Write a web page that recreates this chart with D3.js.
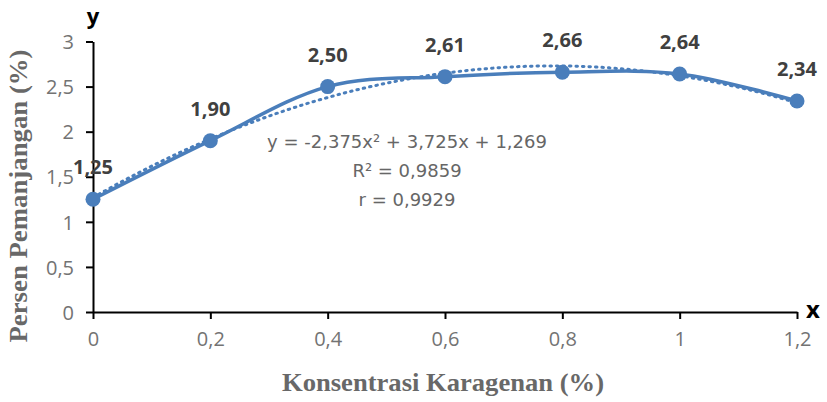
<!DOCTYPE html>
<html>
<head>
<meta charset="utf-8">
<script src="https://cdn.jsdelivr.net/npm/d3@7"></script>
<style>
  html, body { margin: 0; padding: 0; background: #fff; }
  svg { display: block; }
</style>
</head>
<body>
<svg id="chart" width="827" height="402"></svg>
<script>
// ---- data ----
const concentrations = [0, 0.2, 0.4, 0.6, 0.8, 1.0, 1.2];
const elongation = [1.25, 1.90, 2.50, 2.61, 2.66, 2.64, 2.34];
const xTicks = [0, 0.2, 0.4, 0.6, 0.8, 1.0, 1.2];
const yTicks = [0, 0.5, 1, 1.5, 2, 2.5, 3];
// polynomial trendline coefficients (c0, c1, c2) as printed on the chart
const trendCoef = [1.269, 3.725, -2.375];
const trendText = ["y = -2,375x² + 3,725x + 1,269", "R² = 0,9859", "r = 0,9929"];
const xTitle = "Konsentrasi Karagenan (%)";
const yTitle = "Persen Pemanjangan (%)";

// ---- layout ----
const svg = d3.select("#chart");
const x = d3.scaleLinear().domain([0, 1.2]).range([93, 797]);
const y = d3.scaleLinear().domain([0, 3]).range([312, 41.5]);
const fmt = v => String(+v.toFixed(2)).replace(".", ",");
const fmt2 = v => v.toFixed(2).replace(".", ",");

const blue = "#4a7ebb";
const tickColor = "#737373";

// axes
const xAxis = svg.append("g").attr("transform", `translate(0,${y(0)})`)
  .call(d3.axisBottom(x).tickValues(xTicks).tickSize(7).tickSizeOuter(0).tickFormat(fmt));
const yAxis = svg.append("g").attr("transform", `translate(${x(0)},0)`)
  .call(d3.axisLeft(y).tickValues(yTicks).tickSize(7).tickSizeOuter(0).tickFormat(fmt));

[xAxis, yAxis].forEach(g => {
  g.select(".domain").attr("stroke", "#000").attr("stroke-width", 2);
  g.selectAll(".tick line").attr("stroke", "#000").attr("stroke-width", 2);
  g.selectAll(".tick text")
    .attr("fill", tickColor)
    .style("font-family", "'Open Sans', sans-serif")
    .style("font-size", "20px");
});
xAxis.selectAll(".tick text").attr("y", 0).attr("dy", "34px");
yAxis.selectAll(".tick text").attr("x", -19).attr("dy", "0.36em");

// trendline (dotted)
const trendPts = d3.range(0, 121).map(i => {
  const xv = i / 100;
  return [xv, trendCoef[0] + trendCoef[1] * xv + trendCoef[2] * xv * xv];
});
svg.append("path")
  .datum(trendPts)
  .attr("fill", "none")
  .attr("stroke", blue)
  .attr("stroke-width", 3)
  .attr("stroke-dasharray", "1.5,5")
  .attr("stroke-linecap", "round")
  .attr("d", d3.line().x(d => x(d[0])).y(d => y(d[1])));

// smoothed data line
const data = concentrations.map((c, i) => ({ x: c, y: elongation[i] }));
svg.append("path")
  .datum(data)
  .attr("fill", "none")
  .attr("stroke", blue)
  .attr("stroke-width", 3.5)
  .attr("stroke-linejoin", "round")
  .attr("d", d3.line().x(d => x(d.x)).y(d => y(d.y)).curve(d3.curveCardinal.tension(0)));

// markers
svg.append("g").selectAll("circle").data(data).join("circle")
  .attr("cx", d => x(d.x)).attr("cy", d => y(d.y)).attr("r", 7.5)
  .attr("fill", blue);

// data labels
svg.append("g").selectAll("text").data(data).join("text")
  .attr("x", d => x(d.x)).attr("y", d => y(d.y) - 25)
  .attr("text-anchor", "middle")
  .attr("fill", "#404040")
  .style("font-family", "'Open Sans', sans-serif")
  .style("font-weight", "bold")
  .style("font-size", "20px")
  .text(d => fmt2(d.y));

// trend equation
svg.append("g").selectAll("text").data(trendText).join("text")
  .attr("x", 407).attr("y", (d, i) => 148 + i * 29)
  .attr("text-anchor", "middle")
  .attr("fill", "#666")
  .style("font-family", "'DejaVu Sans', sans-serif")
  .style("font-size", "18px")
  .text(d => d);

// axis letters
svg.append("text").attr("x", 93).attr("y", 24).attr("text-anchor", "middle")
  .style("font-family", "'Open Sans', sans-serif").style("font-weight", "bold").style("font-size", "22px")
  .attr("fill", "#000").text("y");
svg.append("text").attr("x", 813).attr("y", 318).attr("text-anchor", "middle")
  .style("font-family", "'Open Sans', sans-serif").style("font-weight", "bold").style("font-size", "24px")
  .attr("fill", "#000").text("x");

// axis titles
svg.append("text").attr("x", 443).attr("y", 391).attr("text-anchor", "middle")
  .attr("fill", "#686868")
  .style("font-family", "'Liberation Serif', 'Times New Roman', serif")
  .style("font-weight", "bold").style("font-size", "25px")
  .attr("textLength", 322).attr("lengthAdjust", "spacingAndGlyphs")
  .text(xTitle);
svg.append("text")
  .attr("transform", "translate(27,196) rotate(-90)")
  .attr("text-anchor", "middle")
  .attr("fill", "#686868")
  .style("font-family", "'Liberation Serif', 'Times New Roman', serif")
  .style("font-weight", "bold").style("font-size", "25px")
  .attr("textLength", 293).attr("lengthAdjust", "spacingAndGlyphs")
  .text(yTitle);
</script>
</body>
</html>
